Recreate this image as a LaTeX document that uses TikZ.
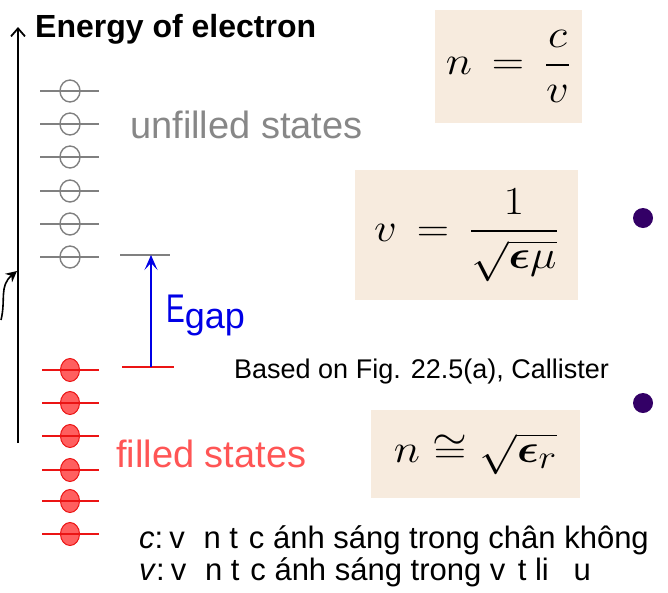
\RequirePackage{fix-cm}
\documentclass[tikz,border=0pt]{standalone}
\usepackage{amsmath,amssymb}
\usepackage[no-math]{fontspec}
\setmainfont{Liberation Sans}
\newfontfamily\narrowsans[FakeStretch=0.7]{Liberation Sans}
\usetikzlibrary{arrows.meta}
\definecolor{levelgray}{RGB}{128,128,128}
\definecolor{labelgray}{RGB}{135,135,135}
\definecolor{levelred}{RGB}{235,20,20}
\definecolor{dotred}{RGB}{255,95,95}
\definecolor{labelred}{RGB}{255,85,85}
\definecolor{gapblue}{RGB}{0,0,230}
\definecolor{boxbeige}{RGB}{247,235,222}
\definecolor{bulletpurple}{RGB}{51,0,102}
\tikzset{
  level/.style={line width=1.6pt},
  lbl/.style={anchor=base west, inner sep=0pt},
  eqbox/.style={fill=boxbeige, inner sep=0pt, font=\fontsize{24.88}{30}\selectfont},
}
\newcommand{\bigeq}[1]{\scalebox{1.8}[1.6]{#1}}

\begin{document}
\begin{tikzpicture}[x=1pt,y=-1pt]
\useasboundingbox (0,0) rectangle (668,592);
\clip (0,0) rectangle (668,592);
% energy axis
\coordinate (axbot) at (18,443);
\coordinate (axtop) at (18,27);
\draw[line width=1.8pt, -{Straight Barb[length=8pt,width=14pt,line width=1.8pt]}] (axbot) -- (axtop);
\node[lbl, font=\bfseries\fontsize{32}{36}\selectfont] (energy) at (35,37) {Energy of electron};
\coordinate (kick) at (1,320);
\coordinate (kickend) at (17,271);
\draw[line width=1.6pt, -{Stealth[length=11pt,width=11pt]}] (kick) .. controls (6,300) and (-1,286) .. (kickend);

% unfilled states
\foreach \y in {91,124,157,191,224,257}
  {\draw[levelgray, level] (40,\y) -- (99,\y);
   \draw[levelgray, line width=1.4pt] (70,\y) ellipse (10 and 11);}
\node[lbl, text=labelgray, font=\fontsize{38}{44}\selectfont] (unfilled) at (130,138) {unfilled states};

% filled states
\foreach \y in {370,403,436,470,501,534}
  {\draw[levelred, fill=dotred, line width=1pt] (70,\y) ellipse (9.5 and 11.5);
   \draw[levelred, level] (42,\y) -- (99,\y);}
\node[lbl, text=labelred, font=\fontsize{38}{44}\selectfont] (filled) at (116,467) {filled states};

% band gap
\coordinate (cbedge) at (151,255);
\coordinate (vbedge) at (151,367);
\draw[levelgray, level] (120,255) -- (170,255);
\draw[levelred, level] (122,367) -- (174,367);
\draw[gapblue, line width=1.6pt, -{Stealth[length=15pt,width=13pt,inset=7pt]}] (vbedge) -- (cbedge);
\node[lbl, text=gapblue] (egap) at (166,322) {{\narrowsans\fontsize{40}{44}\selectfont E}\raisebox{-6pt}{\fontsize{36}{40}\selectfont gap}};
\node[lbl, font=\fontsize{27}{32}\selectfont] (source) at (234,378) {Based on Fig. 22.5(a), Callister};

% formulas
\node[eqbox, minimum width=147pt, minimum height=113pt] (eqn) at (508.5,66.5) {\bigeq{$n \,=\, \dfrac{c}{v}$}};
\node[eqbox, minimum width=223pt, minimum height=130pt] (eqv) at (466.5,235) {\bigeq{$v \,=\, \dfrac{1}{\sqrt{\boldsymbol{\epsilon}\mu}}$}};
\node[eqbox, minimum width=209pt, minimum height=88pt] (eqr) at (475.5,454) {\bigeq{$n \cong \sqrt{\boldsymbol{\epsilon}_r}$}};
\fill[bulletpurple] (643,218) circle (10);
\fill[bulletpurple] (643,403) circle (10);

% notes
\node[lbl, font=\fontsize{31}{36}\selectfont] (cline) at (139,548) {\textit{c}:\hspace{0.2em}v\hspace{0.6em}n t\hspace{0.35em}c ánh sáng trong chân không};
\node[lbl, font=\fontsize{31}{36}\selectfont] (vline) at (139,580) {\textit{v}:\hspace{0.2em}v\hspace{0.6em}n t\hspace{0.35em}c ánh sáng trong v\hspace{0.4em}t li\hspace{0.8em}u};
\end{tikzpicture}
\end{document}
